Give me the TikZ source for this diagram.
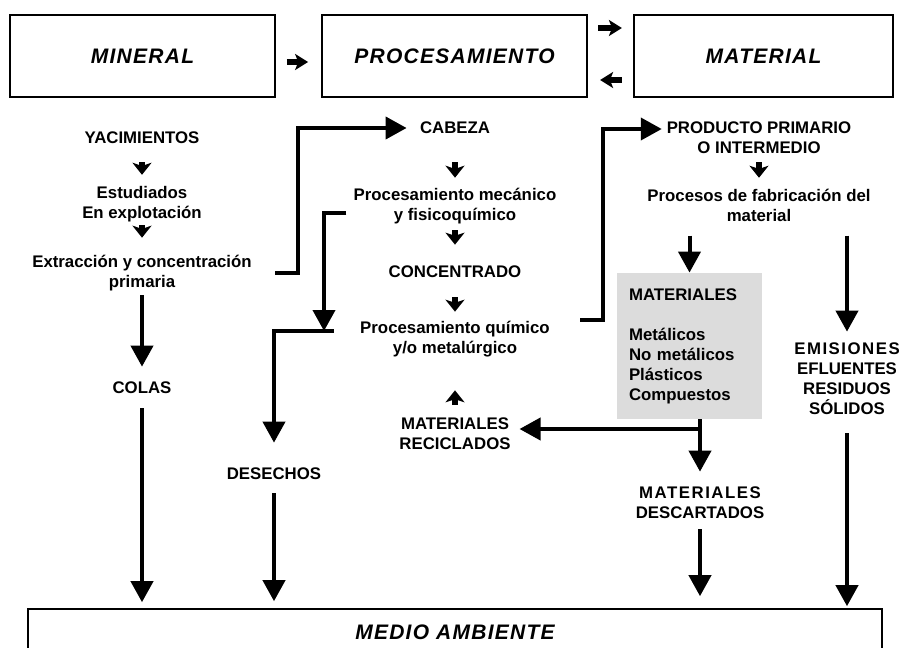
\documentclass[tikz,border=0pt]{standalone}
\usepackage{fontspec}
\setmainfont{Liberation Sans}
\newfontfamily\espaciada{Liberation Sans}[LetterSpace=6]
\newfontfamily\espaciadab{Liberation Sans}[LetterSpace=9]
\usetikzlibrary{arrows.meta}
\newcommand\cuerpo{\fontsize{8.4pt}{10pt}\selectfont\bfseries}
\newcommand\etiq{\espaciada\fontsize{10.5pt}{12pt}\selectfont\bfseries\itshape}
\definecolor{grisclaro}{RGB}{220,220,220}
\tikzset{%
	etapa/.style    = {draw, line width=1.3pt, rectangle, minimum height=41pt,
		font=\etiq},
	fondo/.style    = {draw, line width=0.8pt, rectangle, minimum width=427pt,
		minimum height=23pt, font=\etiq},
	texto/.style    = {align=center, inner sep=0pt, font=\cuerpo}, % texto suelto
	caja/.style     = {fill=grisclaro, minimum width=72.5pt, minimum height=73pt,
		text width=60.5pt, inner xsep=6pt, align=left, font=\cuerpo},
	flecha/.style   = {line width=2pt, -{Triangle[width=11pt,length=10.5pt]}},
	flechita/.style 2 args = {line width=3.2pt,
		-{Stealth[width=9.5pt,length=6pt,inset=1.6pt]},
		shorten <=#1, shorten >=#2}, % flecha corta
	lateral/.style  = {-{Stealth[width=8pt,length=6.5pt,inset=1.6pt]}}
}

\begin{document}
\begin{tikzpicture}[x=0.5pt,y=-0.5pt]
	\useasboundingbox (0,0) rectangle (900,648);

	\node[etapa, minimum width=132.5pt] (mineral) at (142.5,56) {MINERAL};
	\node[etapa, minimum width=132.5pt] (proc) at (454.5,56) {PROCESAMIENTO};
	\node[etapa, minimum width=129.5pt] (mat) at (763.5,56) {MATERIAL};

	\node[texto] (yac) at (142,138) {YACIMIENTOS};
	\node[texto] (est) at (142,204) {Estudiados\\En explotación};
	\node[texto] (ext) at (142,273) {Extracción y concentración\\primaria};
	\node[texto] (colas) at (142,388) {COLAS};

	\node[texto] (cabeza) at (455,128) {CABEZA};
	\node[texto] (mec) at (455,206) {Procesamiento mecánico\\y fisicoquímico};
	\node[texto] (conc) at (455,272) {CONCENTRADO};
	\node[texto] (quim) at (455,339) {Procesamiento químico\\y/o metalúrgico};
	\node[texto] (recic) at (455,434) {MATERIALES\\RECICLADOS};
	\node[texto] (desechos) at (274,474) {DESECHOS};

	\node[texto] (prod) at (759,138) {PRODUCTO PRIMARIO\\O INTERMEDIO};
	\node[texto] (fab) at (759,205) {Procesos de fabricación del\\material};
	\node[caja] (mats) at (689.5,346) {MATERIALES\\[10pt]Metálicos\\No metálicos\\Plásticos\\Compuestos};
	\node[texto] (desc) at (700,503) {{\espaciadab MATERIALES}\\DESCARTADOS};
	\node[texto] (emis) at (847,379) {{\espaciadab EMISIONES}\\EFLUENTES\\RESIDUOS\\SÓLIDOS};

	\node[fondo] (medio) at (455,632) {MEDIO AMBIENTE};

	\coordinate (b1) at (298,0);
	\coordinate (b2) at (603,0);
	\coordinate (j1) at (324,331);
	\coordinate (j2) at (274,331);
	\coordinate (p1) at ([yshift=4.5pt]prod.west);
	\coordinate (r1) at ([yshift=2.5pt]recic.east);

	% etapas
	\draw[flechita={5.3pt}{6.3pt}, lateral] ([yshift=-3pt]mineral.east) -- ([yshift=-3pt]proc.west);
	\draw[flechita={4.9pt}{5.4pt}, lateral] ([yshift=14pt]proc.east) -- ([yshift=14pt]mat.west);
	\draw[flechita={5.4pt}{5.9pt}, lateral] ([yshift=-12pt]mat.west) -- ([yshift=-12pt]proc.east);

	% mineral
	\draw[flechita={9pt}{5.5pt}] (yac.south) -- (est.north);
	\draw[flechita={1.5pt}{8.5pt}] (est.south) -- (ext.north);
	\draw[flecha, shorten <=2pt, shorten >=7.5pt] (ext.south) -- (colas.north);
	\draw[flecha, shorten <=7pt, shorten >=3pt] (colas.south) -- (colas.south |- medio.north);
	\draw[flecha, shorten <=11.5pt, shorten >=6.5pt] (ext.east) -| (cabeza.west -| b1) -- (cabeza.west);

	% procesamiento
	\draw[flechita={14pt}{5pt}] (cabeza.south) -- (mec.north);
	\draw[flechita={3pt}{10.5pt}] (mec.south) -- (conc.north);
	\draw[flechita={9.5pt}{4.5pt}] (conc.south) -- (quim.north);
	\draw[flechita={6.5pt}{16.5pt}] (recic.north) -- (quim.south);
	\draw[flecha, shorten <=3.5pt] ([yshift=-3.5pt]mec.west) -| (j1);
	\draw[flecha, shorten <=13pt, shorten >=12.5pt] (quim.west |- j2) -- (j2) -- (j2 |- desechos.north);
	\draw[flecha, shorten <=6.5pt, shorten >=3.5pt] (desechos.south) -- (desechos.south |- medio.north);
	\draw[flecha, shorten <=15pt, shorten >=2.3pt] ([yshift=9.5pt]quim.east) -| (p1 -| b2) -- (p1);

	% material
	\draw[flechita={4pt}{5.3pt}] (prod.south) -- (fab.north);
	\draw[flecha, shorten <=7pt] (mats.north |- fab.south) -- (mats.north);
	\draw[flecha, shorten <=7pt, shorten >=5.5pt] (emis.north |- fab.south) -- (emis.north);
	\draw[flecha, shorten <=9pt, shorten >=1pt] (emis.south) -- (emis.south |- medio.north);
	\draw[flecha, shorten >=7.5pt] (mats.south -| desc.north) -- (desc.north);
	\draw[flecha, shorten >=4.3pt] (r1 -| desc.north) -- (r1);
	\draw[flecha, shorten <=5pt, shorten >=6pt] (desc.south) -- (desc.south |- medio.north);
\end{tikzpicture}
\end{document}
